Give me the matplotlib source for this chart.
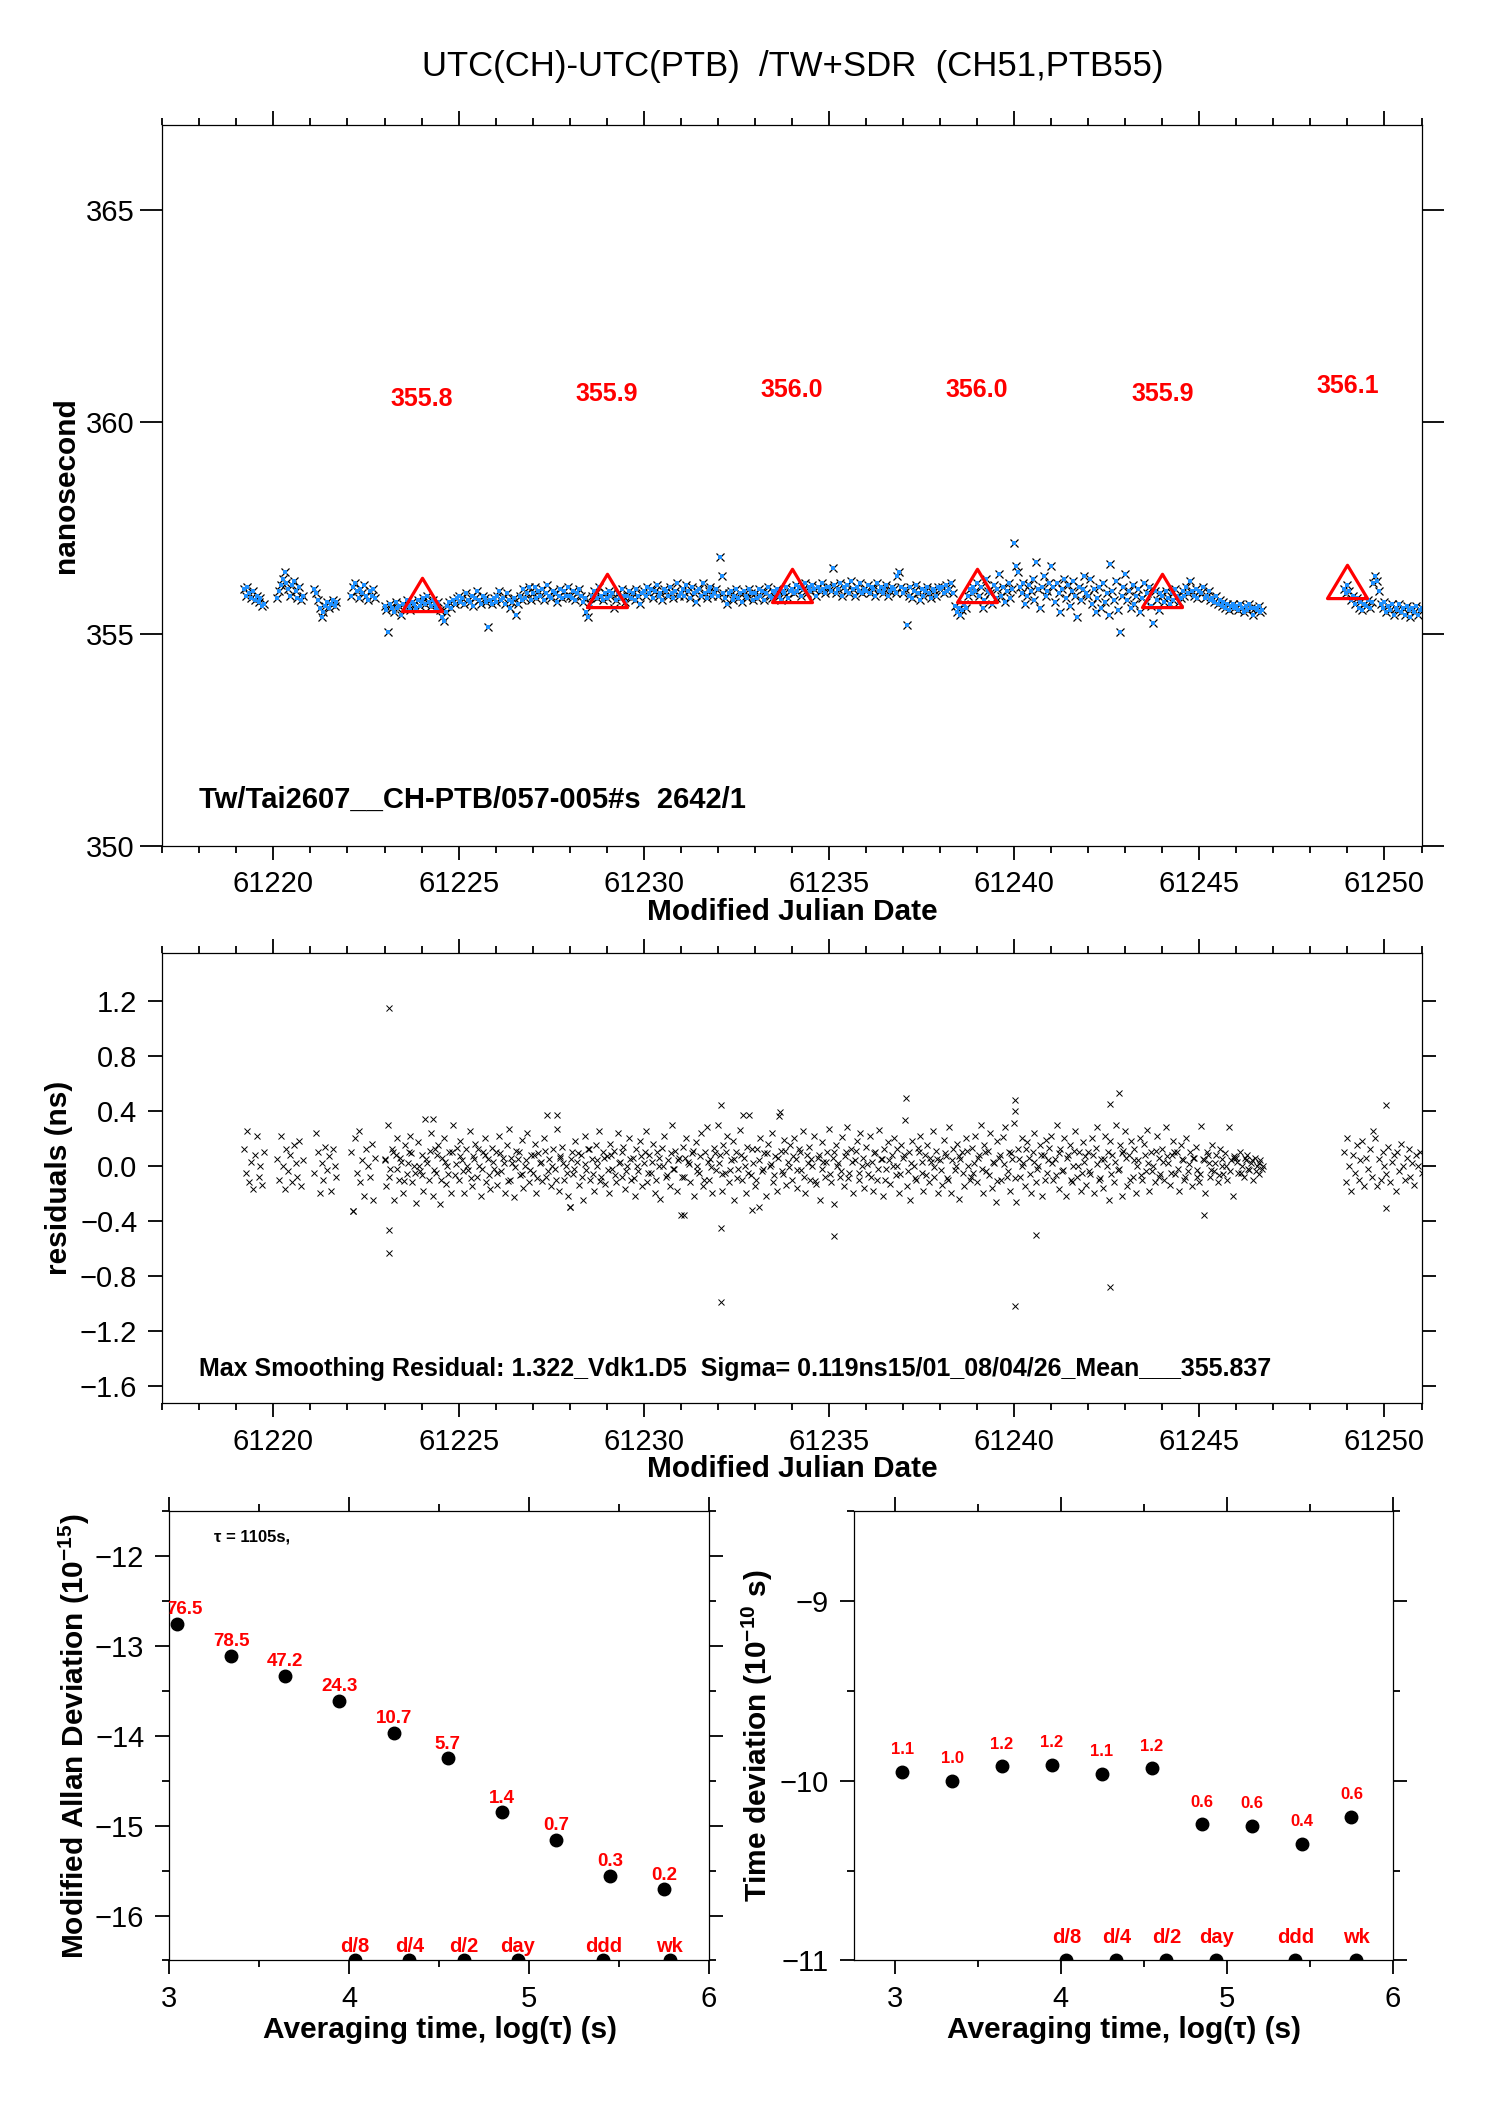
import matplotlib
matplotlib.use("Agg")
import matplotlib.pyplot as plt
import numpy as np
from matplotlib.path import Path
from matplotlib.ticker import FuncFormatter, MultipleLocator

plt.rcParams["font.family"] = ["Liberation Sans", "DejaVu Sans"]
plt.rcParams["mathtext.fontset"] = "custom"
plt.rcParams["mathtext.rm"] = "Liberation Sans"
plt.rcParams["mathtext.bf"] = "Liberation Sans:bold"

# ---------------- data ----------------
STEP = 0.05  # days between listed samples

seg_start = [61219.20, 61220.10, 61221.10, 61222.10, 61223.00, 61248.90]

# UTC(CH)-UTC(PTB), ns
ns_segs = [
    [356.05, 355.9, 356.1, 355.95, 355.85, 356.0, 355.8, 355.9, 355.75, 355.85, 355.65, 355.7],
    [355.85, 356.0, 356.15, 356.3, 356.45, 356.2, 356.05, 355.9, 356.15, 356.25, 356.0, 355.85,
     356.1, 355.8, 355.9],
    [356.05, 355.95, 355.8, 355.6, 355.4, 355.5, 355.65, 355.75, 355.6, 355.7, 355.8, 355.65, 355.75],
    [355.9, 356.1, 356.2, 356.0, 355.85, 356.05, 355.95, 356.15, 355.9, 355.8, 356.0, 355.9,
     356.05, 355.85],
    [
        # 61223
        355.65, 355.55, 355.05, 355.7, 355.6, 355.5, 355.75, 355.6, 355.65, 355.45,
        355.7, 355.6, 355.8, 355.65, 355.55, 355.75, 355.7, 355.6, 355.8, 355.65,
        # 61224
        355.75, 355.85, 355.7, 355.9, 355.75, 355.65, 355.8, 355.7, 355.6, 355.75,
        355.55, 355.4, 355.3, 355.5, 355.65, 355.75, 355.6, 355.8, 355.7, 355.85,
        # 61225
        355.9, 355.75, 355.85, 355.7, 355.95, 355.8, 355.75, 355.9, 355.65, 355.85,
        356.0, 355.8, 355.7, 355.9, 355.85, 355.75, 355.15, 355.8, 355.7, 355.85,
        # 61226
        355.75, 355.9, 356.0, 355.8, 355.85, 355.7, 355.95, 355.8, 355.6, 355.75,
        355.85, 355.45, 355.7, 355.9, 355.8, 356.05, 355.85, 355.95, 356.1, 355.8,
        # 61227
        355.95, 356.1, 355.85, 356.0, 355.9, 356.05, 355.8, 355.95, 356.15, 355.9,
        355.85, 356.0, 355.95, 355.75, 355.9, 356.05, 355.85, 356.0, 355.9, 356.1,
        # 61228
        355.9, 355.85, 356.0, 355.8, 355.95, 356.05, 355.9, 355.75, 355.85, 355.5,
        355.4, 355.7, 355.9, 356.0, 355.95, 355.85, 356.1, 355.9, 355.8, 355.95,
        # 61229
        355.85, 356.0, 355.9, 355.95, 355.6, 355.8, 355.95, 355.85, 356.05, 355.9,
        355.75, 355.9, 356.0, 355.85, 355.95, 355.8, 356.05, 355.9, 355.7, 355.95,
        # 61230
        356.0, 355.9, 356.1, 355.95, 356.05, 355.85, 356.0, 356.15, 355.9, 355.95,
        355.8, 356.05, 356.0, 355.9, 356.1, 355.95, 355.85, 356.0, 356.2, 355.9,
        # 61231
        355.95, 356.05, 355.9, 356.15, 356.0, 355.85, 356.1, 355.95, 355.75, 356.0,
        356.05, 355.9, 356.2, 355.95, 355.85, 356.0, 356.1, 355.9, 355.95, 356.05,
        # 61232
        355.9, 356.8, 356.35, 355.95, 355.85, 355.7, 355.95, 356.0, 355.8, 355.9,
        356.05, 355.85, 355.95, 355.75, 356.0, 355.9, 355.85, 356.05, 355.95, 355.8,
        # 61233
        355.95, 355.85, 356.05, 355.9, 356.0, 355.8, 355.95, 356.1, 355.9, 355.85,
        356.0, 355.95, 356.05, 355.9, 355.8, 356.0, 355.95, 356.1, 355.85, 356.0,
        # 61234
        356.05, 355.95, 356.15, 356.0, 356.1, 355.9, 356.05, 356.2, 355.95, 356.1,
        356.0, 356.15, 356.05, 355.9, 356.1, 356.0, 356.2, 356.05, 355.95, 356.1,
        # 61235
        356.1, 356.0, 356.55, 356.15, 355.95, 356.05, 356.2, 355.9, 356.1, 356.0,
        356.15, 355.95, 356.25, 356.05, 355.9, 356.1, 356.0, 356.2, 355.95, 356.05,
        # 61236
        356.0, 356.15, 355.95, 356.1, 356.05, 355.9, 356.2, 356.0, 356.1, 355.95,
        356.05, 356.15, 355.9, 356.0, 356.1, 356.05, 355.95, 356.35, 356.45, 356.1,
        # 61237
        355.95, 356.05, 355.2, 355.9, 356.1, 355.85, 356.0, 356.15, 355.95, 355.8,
        356.05, 355.9, 356.0, 356.1, 355.95, 355.85, 356.05, 356.0, 355.9, 356.1,
        # 61238
        356.05, 356.1, 355.95, 356.15, 356.0, 356.05, 356.2, 355.95, 355.65, 355.5,
        355.6, 355.45, 355.55, 355.7, 355.6, 355.9, 356.05, 355.95, 356.1, 356.0,
        # 61239
        356.2, 355.9, 356.1, 355.6, 355.8, 356.3, 356.0, 355.95, 355.7, 356.15,
        355.85, 356.05, 356.4, 355.9, 356.1, 355.75, 356.0, 356.2, 355.85, 356.05,
        # 61240
        357.15, 356.6, 356.45, 356.1, 355.95, 356.2, 355.7, 355.9, 356.15, 356.0,
        356.3, 355.8, 356.7, 356.05, 355.6, 356.1, 356.35, 355.9, 356.0, 356.2,
        # 61241
        356.6, 356.1, 355.75, 356.2, 355.95, 355.5, 356.05, 356.3, 355.85, 356.15,
        355.65, 356.0, 356.25, 355.9, 355.4, 356.1, 355.8, 356.05, 356.35, 355.95,
        # 61242
        355.9, 356.3, 355.7, 356.05, 355.5, 355.85, 356.1, 355.6, 356.2, 355.75,
        355.95, 355.45, 356.65, 356.0, 355.8, 356.25, 355.55, 355.05, 355.9, 356.1,
        # 61243
        356.4, 355.8, 356.0, 355.6, 356.15, 355.7, 355.9, 356.05, 355.5, 355.85,
        356.2, 355.75, 355.95, 356.1, 355.65, 355.25, 356.0, 355.8, 355.55, 355.95,
        # 61244
        355.9, 355.75, 356.0, 355.85, 355.7, 355.95, 355.8, 356.05, 355.9, 355.75,
        355.85, 356.0, 355.9, 356.1, 355.95, 356.25, 356.0, 355.9, 356.05, 355.85,
        # 61245
        356.0, 355.95, 356.1, 355.85, 355.9, 356.0, 355.8, 355.85, 355.75, 355.9,
        355.7, 355.8, 355.65, 355.75, 355.6, 355.7, 355.55, 355.65, 355.7, 355.6,
        # 61246
        355.65, 355.55, 355.7, 355.6, 355.5, 355.65, 355.55, 355.7, 355.6, 355.45,
        355.6, 355.55, 355.65, 355.5, 355.55,
    ],
    [356.05, 355.95, 356.15, 356.0, 355.8, 355.9, 355.7, 355.85, 355.6, 355.75,
     355.55, 355.7, 355.65, 355.8, 355.6, 355.75, 356.2, 356.35, 356.25, 356.0,
     355.7, 355.6, 355.75, 355.5, 355.65, 355.55, 355.7, 355.45, 355.6, 355.55,
     355.7, 355.5, 355.6, 355.45, 355.65, 355.55, 355.4, 355.6, 355.5, 355.65,
     355.45, 355.55, 355.6],
]

# residuals of the smoothing, ns
res_segs = [
    [0.12, -0.05, 0.25, -0.12, 0.03, -0.17, 0.08, 0.22, -0.08, 0.0, -0.14, 0.1],
    [0.05, -0.1, 0.22, 0.0, -0.17, 0.12, -0.04, 0.08, -0.12, 0.15, 0.02, -0.08, 0.18, -0.15, 0.04],
    [-0.05, 0.24, 0.1, -0.2, 0.02, -0.1, 0.14, -0.03, 0.07, -0.18, 0.12, 0.0, -0.08],
    [0.1, -0.33, 0.2, -0.05, 0.25, -0.12, 0.04, -0.22, 0.12, 0.0, -0.08, 0.16, -0.25, 0.06],
    [
        0.05, -0.15, 0.3, -0.02, 0.12, -0.25, 0.08, 0.2, -0.1, 0.03, -0.2, 0.15, -0.06, 0.1, 0.22, -0.12, 0.0, -0.27, 0.17, -0.04,
        0.08, -0.18, 0.34, 0.02, -0.1, 0.24, -0.22, 0.12, -0.05, 0.15, -0.28, 0.06, 0.2, -0.13, 0.0, 0.1, -0.2, 0.3, -0.07, 0.13,
        -0.1, 0.18, 0.04, -0.2, 0.12, -0.03, 0.25, -0.15, 0.07, 0.16, -0.08, 0.0, -0.22, 0.1, 0.2, -0.12, 0.05, -0.17, 0.13, -0.02,
        0.1, -0.14, 0.22, -0.04, 0.06, -0.2, 0.15, 0.27, -0.1, 0.02, -0.23, 0.11, 0.05, -0.07, 0.19, -0.16, 0.0, 0.24, -0.12, 0.08,
        -0.05, 0.16, -0.2, 0.09, 0.02, -0.11, 0.2, -0.08, 0.37, 0.05, -0.15, 0.12, -0.02, 0.27, -0.18, 0.06, 0.14, -0.1, 0.0, -0.22,
        -0.3, 0.1, -0.06, 0.18, 0.03, -0.14, 0.08, -0.25, 0.22, -0.03, 0.12, -0.1, 0.05, -0.18, 0.15, 0.0, 0.25, -0.08, 0.1, -0.13,
        0.07, -0.2, 0.16, -0.02, 0.11, -0.12, 0.24, 0.03, -0.08, 0.14, -0.17, 0.0, 0.2, -0.1, 0.06, -0.22, 0.12, -0.04, 0.18, -0.15,
        0.02, 0.25, -0.12, 0.08, -0.05, 0.16, -0.2, 0.1, 0.0, -0.24, 0.13, 0.22, -0.08, 0.04, -0.15, 0.3, -0.02, 0.11, -0.18, 0.06,
        -0.36, 0.14, -0.08, 0.2, 0.03, -0.12, 0.09, -0.22, 0.17, 0.0, -0.05, 0.24, -0.15, 0.1, 0.28, -0.1, 0.05, -0.2, 0.13, -0.03,
        0.3, 0.08, -0.18, 0.15, -0.05, 0.22, -0.12, 0.04, 0.18, -0.25, 0.1, -0.02, 0.26, -0.1, 0.06, -0.2, 0.14, 0.37, -0.07, 0.02,
        -0.15, 0.12, -0.3, 0.2, -0.04, 0.09, -0.22, 0.16, 0.0, 0.24, -0.12, 0.07, -0.18, 0.36, 0.11, -0.06, 0.19, -0.14, 0.03, 0.15,
        -0.1, 0.2, 0.05, -0.16, 0.12, -0.03, 0.25, -0.2, 0.08, 0.14, -0.1, 0.0, 0.22, -0.13, 0.06, -0.25, 0.17, 0.03, -0.08, 0.1,
        0.27, -0.12, 0.06, -0.28, 0.15, 0.02, -0.08, 0.21, -0.15, 0.1, 0.28, -0.05, 0.12, -0.2, 0.04, 0.18, -0.1, 0.24, 0.0, -0.16,
        0.14, -0.06, 0.22, 0.03, -0.18, 0.1, -0.1, 0.26, 0.05, -0.22, 0.12, -0.02, 0.17, -0.13, 0.08, 0.2, -0.07, 0.0, -0.2, 0.15,
        0.06, 0.33, -0.15, 0.1, -0.25, 0.18, 0.0, -0.1, 0.13, 0.22, -0.05, -0.18, 0.08, 0.15, -0.12, 0.03, 0.25, -0.08, 0.11, -0.2,
        0.04, -0.14, 0.19, 0.07, -0.09, 0.28, -0.2, 0.12, -0.03, 0.16, -0.24, 0.05, 0.1, -0.15, 0.2, 0.0, -0.1, 0.13, -0.05, 0.22,
        -0.12, 0.08, 0.3, -0.2, 0.15, -0.04, 0.11, 0.24, -0.16, 0.02, -0.26, 0.18, 0.06, -0.1, 0.21, 0.28, -0.08, 0.1, -0.18, 0.05,
        0.31, -0.26, 0.12, -0.08, 0.2, 0.02, -0.15, 0.17, 0.06, -0.2, 0.1, 0.24, -0.12, 0.0, 0.15, -0.22, 0.08, 0.19, -0.05, 0.13,
        0.22, -0.1, 0.05, 0.3, -0.17, 0.12, -0.04, 0.2, -0.22, 0.08, 0.15, -0.12, 0.0, 0.25, -0.08, 0.1, -0.18, 0.17, 0.03, -0.14,
        0.1, -0.06, 0.2, -0.2, 0.13, 0.28, -0.1, 0.05, -0.16, 0.22, 0.0, -0.25, 0.18, 0.08, -0.12, 0.3, -0.03, 0.15, -0.22, 0.11,
        0.25, -0.15, 0.08, 0.18, -0.08, 0.12, -0.2, 0.04, 0.2, -0.1, 0.16, -0.04, 0.26, -0.18, 0.1, 0.0, -0.12, 0.22, 0.06, -0.06,
        0.12, -0.1, 0.28, 0.02, -0.14, 0.08, 0.18, -0.06, 0.1, -0.18, 0.15, 0.04, -0.1, 0.2, -0.04, 0.1, -0.15, 0.06, 0.14, -0.08,
        -0.12, 0.29, 0.05, -0.2, 0.1, 0.02, -0.08, 0.15, -0.04, 0.08, -0.12, 0.12, 0.0, -0.06, 0.09, -0.1, 0.28, 0.04, -0.22, 0.07,
        0.06, -0.05, 0.1, 0.0, -0.08, 0.04, 0.08, -0.03, 0.02, -0.1, 0.06, 0.0, -0.06, 0.04, -0.02,
    ],
    [0.1, -0.12, 0.2, 0.0, -0.18, 0.08, -0.05, 0.15, -0.1, 0.04, 0.18, -0.15, 0.06, -0.02, 0.12,
     -0.08, 0.25, 0.2, -0.15, 0.05, -0.1, 0.1, 0.0, -0.06, 0.14, -0.12, 0.03, 0.08, -0.18, 0.1,
     -0.04, 0.16, 0.0, -0.1, 0.06, 0.12, -0.08, 0.02, -0.14, 0.08, 0.0, 0.1, -0.05],
]

# extra residual samples in the dense core of the long run (every 0.1 d from 61223.025)
core_start = 61223.025
CORE_STEP = 0.1
res_core = [
    0.04, -0.08, 0.1, -0.02, 0.06, -0.11, 0.02, 0.09, -0.05, 0.0,
    -0.07, 0.05, 0.11, -0.03, 0.08, -0.1, 0.03, -0.06, 0.1, 0.01,
    0.07, -0.04, 0.0, -0.09, 0.05, 0.12, -0.02, 0.08, -0.07, 0.03,
    -0.05, 0.09, 0.02, -0.11, 0.06, -0.01, 0.1, -0.06, 0.04, -0.03,
    0.08, -0.09, 0.03, 0.11, -0.04, 0.0, -0.1, 0.07, 0.02, -0.05,
    0.05, -0.02, 0.09, -0.08, 0.01, 0.12, -0.06, 0.04, -0.11, 0.06,
    -0.03, 0.08, -0.07, 0.02, 0.1, -0.04, 0.05, -0.09, 0.0, 0.07,
    0.1, -0.05, 0.03, -0.1, 0.06, 0.0, -0.07, 0.09, -0.02, 0.04,
    -0.08, 0.06, 0.01, 0.11, -0.04, 0.07, -0.1, 0.03, -0.01, 0.09,
    0.02, -0.06, 0.1, -0.03, 0.05, -0.09, 0.08, 0.0, -0.05, 0.12,
    -0.1, 0.04, -0.02, 0.09, 0.01, -0.07, 0.06, -0.04, 0.11, -0.01,
    0.07, -0.03, 0.1, -0.08, 0.02, 0.05, -0.11, 0.08, -0.02, 0.03,
    -0.06, 0.1, 0.0, -0.04, 0.07, -0.09, 0.03, 0.11, -0.05, 0.06,
    0.01, -0.08, 0.09, -0.02, 0.05, -0.1, 0.04, 0.0, 0.12, -0.06,
    0.08, -0.04, 0.02, -0.09, 0.1, 0.03, -0.07, 0.06, -0.01, 0.05,
    -0.03, 0.09, -0.1, 0.04, 0.0, 0.07, -0.05, 0.11, -0.08, 0.02,
    0.06, -0.02, 0.1, -0.07, 0.03, -0.11, 0.08, 0.01, -0.04, 0.09,
    -0.09, 0.05, 0.0, 0.12, -0.06, 0.03, -0.02, 0.08, -0.1, 0.04,
    0.02, -0.07, 0.09, -0.03, 0.06, -0.1, 0.11, 0.0, -0.05, 0.07,
    -0.04, 0.08, 0.01, -0.09, 0.05, 0.1, -0.06, 0.03, -0.02, 0.09,
    0.06, -0.1, 0.04, 0.0, -0.07, 0.08, 0.02, -0.04, 0.11, -0.08,
    0.03, 0.07, -0.05, 0.1, -0.02, 0.05, -0.08, 0.01, 0.06, -0.03,
    -0.06, 0.04, 0.08, -0.03, 0.02, -0.07, 0.05, 0.0, -0.04, 0.06,
    0.03, -0.05, 0.06, -0.02, 0.04, -0.04, 0.02, 0.0,
]

# isolated residual outliers
out_mjd = [61222.15, 61223.12, 61223.12, 61223.12, 61224.30, 61227.65, 61228.00, 61231.10,
           61232.08, 61232.08, 61232.08, 61232.67, 61232.93, 61233.67, 61235.15, 61237.07,
           61240.02, 61240.02, 61240.02, 61240.58, 61242.58, 61242.83, 61242.58, 61245.14,
           61250.05, 61250.05]
out_res = [-0.33, 1.15, -0.47, -0.63, 0.34, 0.37, -0.30, -0.36,
           0.44, -0.45, -0.99, 0.37, -0.32, 0.39, -0.51, 0.49,
           0.48, 0.40, -1.02, -0.50, 0.45, 0.53, -0.88, -0.36,
           0.44, -0.31]

# 5-day means
mean_mjd = [61224, 61229, 61234, 61239, 61244, 61249]
mean_ns = [355.8, 355.9, 356.0, 356.0, 355.9, 356.1]

# stability (log10 values)
log_tau = [3.043, 3.344, 3.645, 3.946, 4.247, 4.548, 4.849, 5.150, 5.451, 5.752]
mdev_log = [-12.75, -13.11, -13.33, -13.61, -13.97, -14.25, -14.85, -15.16, -15.56, -15.71]
mdev_lbl = ["76.5", "78.5", "47.2", "24.3", "10.7", "5.7", "1.4", "0.7", "0.3", "0.2"]
tdev_log = [-9.95, -10.00, -9.92, -9.91, -9.96, -9.93, -10.24, -10.25, -10.35, -10.20]
tdev_lbl = ["1.1", "1.0", "1.2", "1.2", "1.1", "1.2", "0.6", "0.6", "0.4", "0.6"]

mark_names = ["d/8", "d/4", "d/2", "day", "ddd", "wk"]
mark_log = [4.033, 4.335, 4.636, 4.937, 5.414, 5.782]

# ---------------- figure ----------------
W, H = 1488, 2105
fig = plt.figure(figsize=(W / 100, H / 100), dpi=100)


def frac(l, t, r, b):
    return [l / W, 1 - b / H, (r - l) / W, (b - t) / H]


ax1 = fig.add_axes(frac(162.3, 125.3, 1421.5, 845.5))
ax2 = fig.add_axes(frac(162.3, 953.2, 1421.5, 1402.5))
ax3 = fig.add_axes(frac(169.3, 1511.4, 708.9, 1960.4))
ax4 = fig.add_axes(frac(853.5, 1511.4, 1392.6, 1960.4))

TICK_FS = 21
LAB_FS = 21.5
RED = "#ff0000"
BLUE = "#1e90ff"
minus_fmt = FuncFormatter(lambda v, p: f"{v:.1f}".replace("-", "\u2212"))


def style(ax, xmaj, xmin, ymaj, ymin=None):
    for s in ax.spines.values():
        s.set_linewidth(0.9)
    ax.xaxis.set_major_locator(MultipleLocator(xmaj))
    ax.xaxis.set_minor_locator(MultipleLocator(xmin))
    ax.yaxis.set_major_locator(MultipleLocator(ymaj))
    if ymin:
        ax.yaxis.set_minor_locator(MultipleLocator(ymin))
    else:
        ax.yaxis.set_minor_locator(plt.NullLocator())
    ax.tick_params(which="both", direction="out", top=True, right=True,
                   labelsize=TICK_FS, width=1.3)
    ax.tick_params(which="major", length=10, pad=8)
    ax.tick_params(which="minor", length=5)


# --- top panel: time series ---
for st, vals in zip(seg_start, ns_segs):
    t = st + STEP * np.arange(len(vals))
    ax1.plot(t, vals, "x", color="black", ms=6.0, mew=0.9)
    ax1.plot(t, vals, "s", color=BLUE, ms=3.4, mew=0)

tri = Path([(0, 0.667), (-0.6, -0.333), (0.6, -0.333), (0, 0.667)],
           [Path.MOVETO, Path.LINETO, Path.LINETO, Path.CLOSEPOLY])
ax1.plot(mean_mjd, mean_ns, linestyle="none", marker=tri, ms=32, mfc="none",
         mec=RED, mew=2.3)
for m, v in zip(mean_mjd, mean_ns):
    ax1.text(m, v + 4.75, f"{v:.1f}", color=RED, fontsize=18, fontweight="bold",
             ha="center", va="center")

ax1.set_xlim(61217, 61251)
ax1.set_ylim(350, 367)
style(ax1, 5, 1, 5)
ax1.tick_params(axis="y", which="major", length=16, pad=4)
ax1.set_xlabel("Modified Julian Date", fontsize=LAB_FS, fontweight="bold")
ax1.set_ylabel("nanosecond", fontsize=LAB_FS, fontweight="bold")
ax1.xaxis.set_label_coords(0.5, -0.0923)
ax1.yaxis.set_label_coords(-0.0765, 0.5)
ax1.xaxis.label.set_va("center")
ax1.yaxis.label.set_va("center")
ax1.text(0.029, 0.063, "Tw/Tai2607__CH-PTB/057-005#s  2642/1", transform=ax1.transAxes,
         fontsize=21, fontweight="bold", va="center", ha="left")

fig.text(0.5325, 1 - 66.7 / H, "UTC(CH)-UTC(PTB)  /TW+SDR  (CH51,PTB55)",
         fontsize=25, ha="center", va="center")

# --- middle panel: residuals ---
for st, vals in zip(seg_start, res_segs):
    t = st + STEP * np.arange(len(vals))
    ax2.plot(t, vals, "x", color="black", ms=4.6, mew=0.7)
ax2.plot(core_start + CORE_STEP * np.arange(len(res_core)), res_core, "x",
         color="black", ms=4.6, mew=0.7)
ax2.plot(out_mjd, out_res, "x", color="black", ms=4.6, mew=0.7)

ax2.set_xlim(61217, 61251)
ax2.set_ylim(-1.72, 1.545)
style(ax2, 5, 1, 0.4)
ax2.yaxis.set_major_formatter(minus_fmt)
ax2.set_xlabel("Modified Julian Date", fontsize=LAB_FS, fontweight="bold")
ax2.set_ylabel("residuals (ns)", fontsize=LAB_FS, fontweight="bold")
ax2.xaxis.set_label_coords(0.5, -0.148)
ax2.yaxis.set_label_coords(-0.082, 0.5)
ax2.xaxis.label.set_va("center")
ax2.yaxis.label.set_va("center")
ax2.text(0.029, 0.0746,
         "Max Smoothing Residual: 1.322_Vdk1.D5  Sigma= 0.119ns15/01_08/04/26_Mean___355.837",
         transform=ax2.transAxes, fontsize=18, fontweight="bold", va="center", ha="left")

# --- bottom panels: MDEV and TDEV ---
# (axes, values, labels, y-limits, label size, label lift, mark-label lift)
for ax, yv, lbls, ylim, lfs, lift, mlift in [
        (ax3, mdev_log, mdev_lbl, (-16.5, -11.5), 13.5, 7, 6),
        (ax4, tdev_log, tdev_lbl, (-11, -8.5), 12, 12.5, 12.5)]:
    ax.plot(log_tau, yv, "o", color="black", ms=9)
    for i, (x, y, s) in enumerate(zip(log_tau, yv, lbls)):
        dx = 5.4 if (ax is ax3 and i == 0) else 0
        ax.annotate(s, (x, y), xytext=(dx, lift), textcoords="offset points",
                    ha="center", va="baseline", color=RED, fontsize=lfs,
                    fontweight="bold", annotation_clip=False, clip_on=True)
    ax.plot(mark_log, [ylim[0]] * len(mark_log), "o", color="black", ms=9)
    for x, s in zip(mark_log, mark_names):
        ax.annotate(s, (x, ylim[0]), xytext=(0, mlift), textcoords="offset points",
                    ha="center", va="baseline", color=RED, fontsize=14.5,
                    fontweight="bold")
    ax.set_ylim(*ylim)
    style(ax, 1, 0.5, 1, 0.5)
    ax.set_xlabel("Averaging time, log(τ) (s)", fontsize=LAB_FS, fontweight="bold")
    ax.xaxis.set_label_coords(0.501, -0.156)
    ax.xaxis.label.set_va("center")
    ax.yaxis.label.set_va("center")

ax3.set_xlim(3, 6)
ax4.set_xlim(2.75, 6)
ax3.set_ylabel(r"Modified Allan Deviation (10$^{\mathbf{-15}}$)", fontsize=LAB_FS,
               fontweight="bold")
ax4.set_ylabel(r"Time deviation (10$^{\mathbf{-10}}$ s)", fontsize=LAB_FS,
               fontweight="bold")
ax3.yaxis.set_label_coords(-0.1766, 0.5)
ax4.yaxis.set_label_coords(-0.179, 0.5)
ax3.text(0.0825, 0.944, "τ = 1105s,", transform=ax3.transAxes, fontsize=12,
         fontweight="bold", va="center", ha="left")

fig.savefig("out.png", dpi=100)
